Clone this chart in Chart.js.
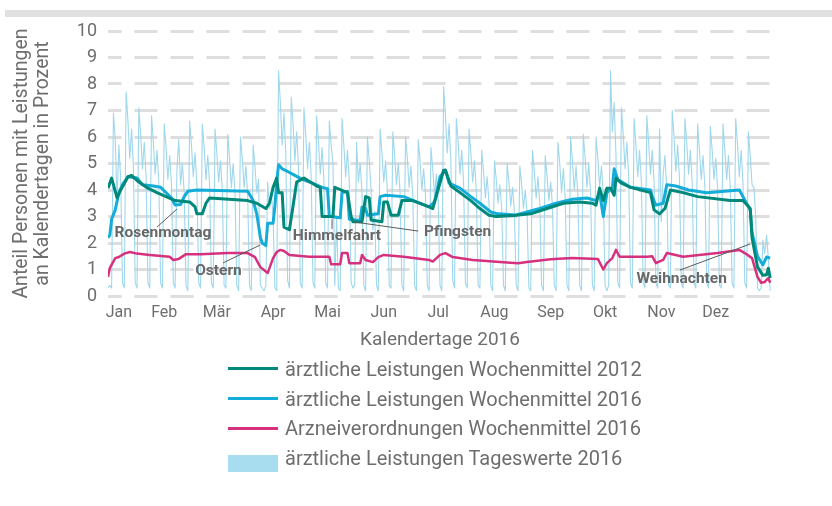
<!DOCTYPE html>
<html>
<head>
<meta charset="utf-8">
<script src="https://cdn.jsdelivr.net/npm/chart.js@4.4.0/dist/chart.umd.min.js"></script>
<style>
    body { margin: 0; background: #fff; font-family: Roboto, sans-serif; }
    #wrap { position: relative; width: 832px; height: 506px; overflow: hidden; }
    #topbar { position: absolute; left: 5px; top: 10px; width: 827px; height: 7px; background: #e1e1e1; }
    #chartBox { position: absolute; left: 0; top: 0; width: 832px; height: 360px; }
    #legend { position: absolute; left: 228px; top: 354px; }
    .item { height: 29.7px; display: flex; align-items: center; color: #6e6e6e; font-size: 20px; }
    .icon { width: 50px; margin-right: 7px; }
</style>
</head>
<body>
<div id="wrap">
    <div id="topbar"></div>
    <div id="chartBox"><canvas id="lineChart" width="832" height="360"></canvas></div>
    <div id="legend"></div>
</div>
<script>
// tick labels (Jan label sits a bit right of Jan 1, like the original)
var monthLabels = ["Jan", "Feb", "Mär", "Apr", "Mai", "Jun", "Jul", "Aug", "Sep", "Okt", "Nov", "Dez"];
var monthTickDays = [6, 31, 60, 91, 121, 152, 182, 213, 244, 274, 305, 335];

var seriesLabels = [
    "ärztliche Leistungen Wochenmittel 2012",
    "ärztliche Leistungen Wochenmittel 2016",
    "Arzneiverordnungen Wochenmittel 2016",
    "ärztliche Leistungen Tageswerte 2016"
];

// daily values 2016, index 0 = Fri 1 Jan, one row per week (Mon..Sun)
var dailyValues = [
    0.3, 0.4, 0.3,
    6.9, 5.9, 3.6, 5.7, 4.4, 0.5, 0.3,
    7.7, 6.6, 5.2, 6.3, 4.9, 0.5, 0.3,
    7.1, 6.1, 4.8, 5.8, 4.5, 0.5, 0.3,
    6.8, 5.8, 4.6, 5.5, 4.3, 0.5, 0.3,
    6.5, 5.6, 4.4, 5.3, 4.2, 0.5, 0.3,
    4.8, 5.9, 4.2, 5.0, 3.9, 0.4, 0.2,
    6.6, 5.7, 4.5, 5.4, 4.2, 0.5, 0.3,
    6.5, 5.6, 4.4, 5.3, 4.2, 0.5, 0.3,
    6.3, 5.4, 4.3, 5.1, 4.0, 0.4, 0.3,
    6.1, 5.2, 4.1, 5.0, 3.9, 0.4, 0.2,
    6.0, 5.2, 4.1, 4.9, 3.8, 0.4, 0.2,
    5.7, 4.9, 3.9, 4.4, 0.4, 0.3, 0.2,
    0.4, 4.3, 3.3, 3.9, 3.0, 0.3, 0.2,
    8.5, 7.3, 5.7, 6.9, 5.4, 0.6, 0.3,
    7.5, 6.5, 5.1, 6.2, 4.8, 0.5, 0.3,
    7.1, 6.1, 4.8, 5.8, 4.5, 0.5, 0.3,
    6.8, 5.8, 4.6, 5.6, 4.4, 0.5, 0.3,
    6.6, 5.7, 5.0, 0.4, 3.0, 0.3, 0.2,
    6.7, 5.7, 4.5, 5.5, 4.3, 0.5, 0.3,
    0.4, 5.8, 4.3, 5.0, 3.9, 0.4, 0.2,
    6.0, 5.1, 4.0, 2.5, 3.2, 0.4, 0.2,
    6.3, 5.4, 4.3, 5.1, 4.0, 0.4, 0.3,
    6.2, 5.3, 4.2, 5.0, 3.9, 0.4, 0.2,
    6.0, 5.2, 4.1, 4.9, 3.8, 0.4, 0.2,
    5.9, 5.1, 4.0, 4.8, 3.8, 0.4, 0.2,
    5.6, 4.8, 3.8, 4.6, 3.6, 0.4, 0.2,
    7.9, 6.8, 5.4, 6.5, 5.1, 0.6, 0.3,
    6.7, 5.8, 4.6, 5.5, 4.3, 0.5, 0.3,
    6.3, 5.4, 4.3, 5.1, 4.0, 0.4, 0.3,
    5.5, 4.7, 3.7, 4.5, 3.5, 0.4, 0.2,
    5.1, 4.4, 3.5, 4.2, 3.3, 0.4, 0.2,
    5.0, 4.3, 3.4, 4.1, 3.2, 0.4, 0.2,
    4.9, 4.2, 3.3, 4.0, 3.1, 0.3, 0.2,
    5.5, 4.7, 3.7, 4.5, 3.5, 0.4, 0.2,
    5.3, 4.5, 3.6, 4.3, 3.4, 0.4, 0.2,
    5.8, 5.0, 3.9, 4.8, 3.7, 0.4, 0.2,
    6.0, 5.1, 4.0, 4.9, 3.8, 0.4, 0.2,
    6.1, 5.2, 4.1, 5.0, 3.9, 0.4, 0.2,
    6.0, 5.2, 4.1, 4.9, 3.8, 0.4, 0.2,
    0.4, 8.5, 6.2, 7.3, 5.3, 0.5, 0.3,
    7.1, 6.1, 4.8, 5.8, 4.5, 0.5, 0.3,
    6.7, 5.7, 4.5, 5.5, 4.3, 0.5, 0.3,
    6.8, 5.8, 4.6, 5.5, 4.3, 0.5, 0.3,
    6.3, 2.8, 4.6, 5.3, 4.0, 0.4, 0.3,
    7.0, 6.0, 4.7, 5.7, 4.4, 0.5, 0.3,
    6.7, 5.8, 4.6, 5.5, 4.3, 0.5, 0.3,
    6.5, 5.5, 4.4, 5.3, 4.1, 0.5, 0.3,
    6.4, 5.5, 4.4, 5.2, 4.1, 0.4, 0.3,
    6.5, 5.5, 4.4, 5.3, 4.1, 0.5, 0.3,
    6.7, 5.7, 4.5, 5.5, 4.3, 0.5, 0.3,
    6.2, 5.3, 4.2, 4.1, 3.0, 0.3, 0.2,
    0.3, 2.1, 1.6, 2.3, 1.4, 0.2
];

// weekly means, read at the points where the lines bend (day of year, percent)
var mean2012Days = [0, 2, 5, 7, 11, 13, 17, 22, 27, 32, 37, 45, 48, 49, 52, 54, 56, 77, 82, 87, 89, 91, 93, 94, 96, 97, 100, 102, 104, 108, 115, 117, 118, 124, 125, 132, 134, 135, 140, 142, 144, 145, 151, 152, 154, 156, 160, 162, 168, 177, 179, 185, 186, 189, 194, 200, 205, 210, 214, 225, 233, 242, 251, 260, 267, 269, 271, 273, 275, 277, 279, 280, 283, 288, 299, 301, 304, 307, 310, 317, 325, 343, 350, 354, 355, 358, 361, 363, 364, 365];
var mean2012Values = [4.07, 4.45, 3.7, 4.0, 4.5, 4.55, 4.3, 4.07, 3.9, 3.75, 3.6, 3.55, 3.36, 3.1, 3.1, 3.5, 3.7, 3.6, 3.5, 3.3, 3.5, 4.1, 4.45, 3.9, 3.9, 2.6, 2.5, 3.4, 4.3, 4.45, 4.15, 4.1, 3.0, 3.0, 4.1, 3.9, 3.0, 2.8, 2.8, 3.75, 3.7, 2.87, 2.8, 3.55, 3.55, 3.05, 3.05, 3.6, 3.6, 3.36, 3.3, 4.75, 4.75, 4.15, 3.9, 3.6, 3.3, 3.05, 3.0, 3.05, 3.1, 3.3, 3.5, 3.55, 3.5, 3.43, 4.07, 3.6, 4.07, 4.07, 3.8, 4.45, 4.26, 4.1, 3.9, 3.25, 3.1, 3.3, 4.0, 3.9, 3.75, 3.6, 3.6, 3.3, 2.2, 1.1, 0.78, 0.8, 1.05, 0.68];

var mean2016Days = [0, 1, 2, 4, 6, 8, 11, 16, 19, 25, 29, 32, 35, 37, 40, 42, 44, 49, 77, 80, 82, 84, 85, 87, 88, 91, 92, 93, 94, 96, 99, 103, 107, 113, 118, 121, 122, 128, 129, 132, 133, 139, 140, 142, 143, 149, 150, 153, 163, 170, 177, 180, 183, 186, 188, 194, 200, 205, 211, 215, 225, 231, 238, 247, 256, 264, 269, 271, 273, 275, 278, 279, 281, 288, 299, 300, 302, 306, 308, 313, 320, 330, 348, 350, 354, 355, 358, 361, 363, 365];
var mean2016Values = [2.2, 2.3, 2.9, 3.25, 3.9, 4.2, 4.5, 4.45, 4.2, 4.15, 4.1, 3.9, 3.7, 3.43, 3.45, 3.75, 3.95, 4.0, 3.95, 3.6, 3.1, 2.2, 2.0, 1.9, 2.75, 2.75, 3.4, 4.3, 4.95, 4.8, 4.7, 4.55, 4.4, 4.25, 4.1, 4.05, 3.0, 2.95, 3.9, 3.95, 2.9, 2.85, 3.35, 3.3, 3.05, 3.1, 3.75, 3.8, 3.75, 3.55, 3.36, 3.55, 4.5, 4.75, 4.26, 4.07, 3.75, 3.5, 3.17, 3.1, 3.06, 3.17, 3.3, 3.5, 3.65, 3.7, 3.6, 3.9, 3.0, 3.9, 4.1, 4.8, 4.4, 4.1, 4.0, 3.75, 3.43, 3.5, 4.2, 4.15, 4.0, 3.9, 4.0, 3.75, 3.25, 2.4, 1.5, 1.17, 1.47, 1.43];

var rxDays = [0, 1, 4, 6, 9, 12, 16, 23, 34, 36, 39, 43, 51, 66, 77, 81, 84, 88, 89, 91, 93, 95, 97, 100, 111, 122, 123, 128, 129, 132, 133, 139, 140, 142, 146, 149, 152, 163, 177, 179, 183, 186, 190, 201, 216, 226, 231, 244, 256, 270, 273, 275, 278, 280, 282, 297, 300, 302, 306, 308, 317, 336, 348, 351, 355, 358, 360, 362, 364, 365];
var rxValues = [0.72, 1.05, 1.43, 1.47, 1.6, 1.66, 1.6, 1.55, 1.48, 1.36, 1.4, 1.58, 1.58, 1.62, 1.62, 1.47, 1.09, 0.87, 1.05, 1.43, 1.66, 1.74, 1.7, 1.55, 1.48, 1.48, 1.2, 1.2, 1.62, 1.62, 1.24, 1.24, 1.55, 1.36, 1.28, 1.47, 1.55, 1.48, 1.36, 1.3, 1.55, 1.62, 1.47, 1.36, 1.28, 1.24, 1.28, 1.39, 1.43, 1.4, 1.0, 1.24, 1.43, 1.74, 1.48, 1.48, 1.5, 1.24, 1.36, 1.62, 1.48, 1.62, 1.74, 1.62, 1.43, 0.72, 0.5, 0.53, 0.68, 0.5];

// holiday notes: text anchor and leader line, in chart units (day, percent)
var notes = [
    { text: "Rosenmontag", x: 30.3, y: 2.38, from: [27, 2.6], to: [38, 3.28] },
    { text: "Ostern", x: 60.9, y: 0.94, from: [63.4, 1.25], to: [83.8, 1.92] },
    { text: "Himmelfahrt", x: 126.2, y: 2.26, from: [123.5, 2.53], to: [123.5, 2.9] },
    { text: "Pfingsten", x: 192.7, y: 2.42, from: [171, 2.45], to: [135, 2.8] },
    { text: "Weihnachten", x: 316.2, y: 0.64, from: [315.3, 0.98], to: [353.9, 1.96] }
];

var colors = ["#00897a", "#14acd9", "#d6317f", "#9fd7ec"];
var textColor = "#6e6e6e";

function toPoints(days, values) {
    var pts = [];
    for (var i = 0; i < days.length; i++) {
        pts.push({ x: days[i], y: values[i] });
    }
    return pts;
}

var dailyPoints = [];
for (var i = 0; i < dailyValues.length; i++) {
    dailyPoints.push({ x: i, y: dailyValues[i] });
}

var notesPlugin = {
    id: "notes",
    afterDatasetsDraw: function (chart) {
        var ctx = chart.ctx;
        var xs = chart.scales.x, ys = chart.scales.y;
        ctx.save();
        ctx.strokeStyle = "#5a5a5a";
        ctx.lineWidth = 1;
        ctx.fillStyle = "#686868";
        ctx.font = "bold 15.5px Roboto, sans-serif";
        ctx.textAlign = "center";
        ctx.textBaseline = "middle";
        notes.forEach(function (n) {
            ctx.beginPath();
            ctx.moveTo(xs.getPixelForValue(n.from[0]), ys.getPixelForValue(n.from[1]));
            ctx.lineTo(xs.getPixelForValue(n.to[0]), ys.getPixelForValue(n.to[1]));
            ctx.stroke();
            ctx.fillText(n.text, xs.getPixelForValue(n.x), ys.getPixelForValue(n.y));
        });
        ctx.restore();
    }
};

function lineSet(label, data, color, width) {
    return {
        label: label,
        data: data,
        borderColor: color,
        backgroundColor: color,
        borderWidth: width,
        pointRadius: 0,
        tension: 0,
        fill: false,
        borderJoinStyle: "round"
    };
}

var ctx = document.getElementById("lineChart").getContext("2d");
var lineChart = new Chart(ctx, {
    type: "line",
    data: {
        datasets: [
            lineSet(seriesLabels[0], toPoints(mean2012Days, mean2012Values), colors[0], 3),
            lineSet(seriesLabels[1], toPoints(mean2016Days, mean2016Values), colors[1], 3),
            lineSet(seriesLabels[2], toPoints(rxDays, rxValues), colors[2], 2.5),
            lineSet(seriesLabels[3], dailyPoints, colors[3], 1.1)
        ]
    },
    options: {
        responsive: false,
        animation: false,
        events: [],
        layout: { padding: { left: 0, right: 60, top: 31, bottom: 0 } },
        plugins: { legend: { display: false }, tooltip: { enabled: false } },
        scales: {
            x: {
                type: "linear",
                min: 0,
                max: 366,
                grid: { display: false, drawTicks: false },
                border: { display: false },
                afterBuildTicks: function (scale) {
                    scale.ticks = monthTickDays.map(function (d) { return { value: d }; });
                },
                ticks: {
                    autoSkip: false,
                    maxRotation: 0,
                    padding: 7,
                    color: textColor,
                    font: { family: "Roboto", size: 16 },
                    callback: function (value, index) { return monthLabels[index]; }
                },
                title: {
                    display: true,
                    text: "Kalendertage 2016",
                    color: textColor,
                    font: { family: "Roboto", size: 19 },
                    padding: { top: 2, bottom: 8 }
                },
                afterFit: function (scale) { scale.height = 64; }
            },
            y: {
                min: 0,
                max: 10,
                ticks: {
                    stepSize: 1,
                    padding: 11,
                    color: textColor,
                    font: { family: "Roboto", size: 18 }
                },
                grid: { color: "#dedede", lineWidth: 3, drawTicks: false },
                border: { display: false, dash: [23, 13], dashOffset: 9.5 },
                title: {
                    display: true,
                    text: ["Anteil Personen mit Leistungen", "an Kalendertagen in Prozent"],
                    color: textColor,
                    font: { family: "Roboto", size: 19.5, lineHeight: 1.05 },
                    padding: { top: 12, bottom: 0 }
                },
                afterFit: function (scale) { scale.width = 108; }
            }
        }
    },
    plugins: [notesPlugin]
});

// legend below the chart, one entry per row
var legendBox = document.getElementById("legend");
seriesLabels.forEach(function (label, i) {
    var row = document.createElement("div");
    row.className = "item";
    var icon = document.createElement("span");
    icon.className = "icon";
    if (i < 3) {
        icon.style.height = "3px";
        icon.style.background = colors[i];
    } else {
        icon.style.height = "17px";
        icon.style.background = "#a8dcef";
        icon.style.alignSelf = "flex-end";
        icon.style.marginBottom = "1px";
    }
    var text = document.createElement("span");
    text.textContent = label;
    row.appendChild(icon);
    row.appendChild(text);
    legendBox.appendChild(row);
});
</script>
</body>
</html>
